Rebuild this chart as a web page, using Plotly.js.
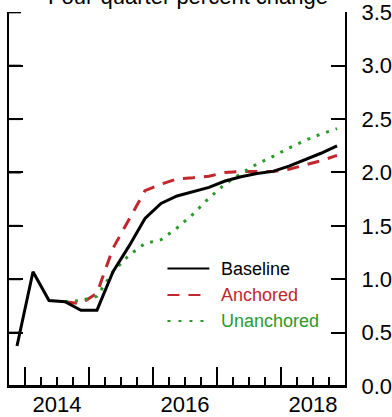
<!DOCTYPE html>
<html>
<head>
<meta charset="utf-8">
<script src="https://cdn.plot.ly/plotly-3.0.1.min.js"></script>
<style>html,body{margin:0;padding:0;background:#fff;overflow:hidden;}#chart{width:392px;height:417px;}</style>
</head>
<body>
<div id="chart"></div>
<script>
// Quarters (plotted at quarter midpoints)
var baselineQuarters = ["2013Q4","2014Q1","2014Q2","2014Q3","2014Q4","2015Q1","2015Q2","2015Q3","2015Q4","2016Q1","2016Q2","2016Q3","2016Q4","2017Q1","2017Q2","2017Q3","2017Q4","2018Q1","2018Q2","2018Q3","2018Q4"];
var scenarioQuarters = ["2014Q3","2014Q4","2015Q1","2015Q2","2015Q3","2015Q4","2016Q1","2016Q2","2016Q3","2016Q4","2017Q1","2017Q2","2017Q3","2017Q4","2018Q1","2018Q2","2018Q3","2018Q4"];
var baseline = [0.375,1.07,0.80,0.79,0.71,0.71,1.07,1.31,1.57,1.71,1.78,1.82,1.86,1.92,1.96,1.99,2.01,2.06,2.12,2.18,2.25];
var anchored = [0.79,0.77,0.87,1.29,1.56,1.83,1.89,1.94,1.95,1.965,2.00,2.01,2.01,2.01,2.03,2.07,2.11,2.16];
var unanchored = [0.79,0.80,0.84,1.07,1.225,1.335,1.37,1.48,1.61,1.76,1.89,1.99,2.08,2.15,2.23,2.30,2.36,2.41];
var majorYears = [2014,2015,2016,2017,2018,2019];
var yearTickText = ["2014","","2016","","2018",""];
var yTicks = [0,0.5,1,1.5,2,2.5,3,3.5];
var seriesNames = ["Baseline","Anchored","Unanchored"];
var titleText = "Four-quarter percent change";

function qToX(q){ var y = parseInt(q.slice(0,4),10); var n = parseInt(q.slice(5),10); return y + (n-0.5)/4; }

var BLACK = "#000000", RED = "#c1272d", GREEN = "#2a9a2a";
var FONT = "Liberation Sans, Arial, Helvetica, sans-serif";

var traces = [
  {x: scenarioQuarters.map(qToX), y: anchored, type:"scatter", mode:"lines", name:seriesNames[1],
   line:{color:RED, width:3, dash:"12px,9px"}, hoverinfo:"skip"},
  {x: scenarioQuarters.map(qToX), y: unanchored, type:"scatter", mode:"lines", name:seriesNames[2],
   line:{color:GREEN, width:3, dash:"3px,7px"}, hoverinfo:"skip"},
  {x: baselineQuarters.map(qToX), y: baseline, type:"scatter", mode:"lines", name:seriesNames[0],
   line:{color:BLACK, width:3}, hoverinfo:"skip"}
];

var xr = [2013.75, 2019];
var yr = [0, 3.503];

var shapes = [], annotations = [];

// frame: bottom axis line and tick marks (on top of everything, in axis coordinates)
shapes.push({type:"line", xref:"paper", yref:"y", x0:0, x1:1, y0:0, y1:0, layer:"above",
  line:{color:"#000", width:2}});
for (var yy = majorYears[0]; yy < majorYears[majorYears.length-1]; yy++){
  for (var q = 0; q < 4; q++){
    shapes.push({type:"line", xref:"x", yref:"y", ysizemode:"pixel", yanchor:0, y0:0, y1:(q===0?19:9),
      x0:yy+q/4, x1:yy+q/4, layer:"above", line:{color:"#000", width:2}});
  }
}
for (var k = 0; k < yTicks.length; k++){
  shapes.push({type:"line", xref:"x", yref:"y", xsizemode:"pixel", xanchor:xr[0], x0:0, x1:12,
    y0:yTicks[k], y1:yTicks[k], layer:"above", line:{color:"#000", width:2}});
}

// legend (drawn in data space)
var legY = [1.10, 0.852, 0.608];
var legX0 = 2016.226, legX1 = 2016.88, legTX = 2017.03;
var legColors = [BLACK, RED, GREEN];
var legDash = ["solid","12px,9px","3px,8px"];
for (var i=0;i<3;i++){
  shapes.push({type:"line", xref:"x", yref:"y", x0:legX0, x1:legX1, y0:legY[i], y1:legY[i],
    line:{color:legColors[i], width:2, dash:legDash[i]}});
  annotations.push({xref:"x", yref:"y", x:legTX, y:legY[i], xanchor:"left", yanchor:"middle",
    text:seriesNames[i], showarrow:false, font:{family:FONT, size:18, color:legColors[i]}});
}
annotations.push({xref:"paper", yref:"paper", x:0.534, y:1, xanchor:"center", yanchor:"bottom", yshift:1,
  text:titleText, showarrow:false, font:{family:FONT, size:22, color:"#000"}});

var layout = {
  width:392, height:417,
  margin:{l:9, r:47, t:12, b:31, pad:0},
  paper_bgcolor:"#fff", plot_bgcolor:"#fff",
  showlegend:false,
  font:{family:FONT, size:22, color:"#000"},
  xaxis:{range:xr, showgrid:false, zeroline:false, showline:true, linecolor:"#000", linewidth:2,
    tickmode:"array", tickvals:majorYears, ticktext:yearTickText, ticks:"inside", ticklen:19, tickwidth:2, tickcolor:"#000",
    ticklabelshift:32, ticklabelstandoff:-2, tickfont:{family:FONT, size:22, color:"#000"},
    minor:{tickmode:"linear", tick0:2014, dtick:0.25, ticks:"inside", ticklen:9, tickwidth:2, tickcolor:"#000", showgrid:false}},
  yaxis:{range:yr, side:"right", mirror:"ticks", showgrid:false, zeroline:false, showline:true, linecolor:"#000", linewidth:2,
    tickmode:"array", tickvals:yTicks, tickformat:".1f", ticks:"inside", ticklen:14, tickwidth:2, tickcolor:"#000",
    ticklabelstandoff:10, tickfont:{family:FONT, size:22, color:"#000"}},
  shapes:shapes,
  annotations:annotations
};

Plotly.newPlot("chart", traces, layout, {staticPlot:true, displayModeBar:false});
</script>
</body>
</html>
